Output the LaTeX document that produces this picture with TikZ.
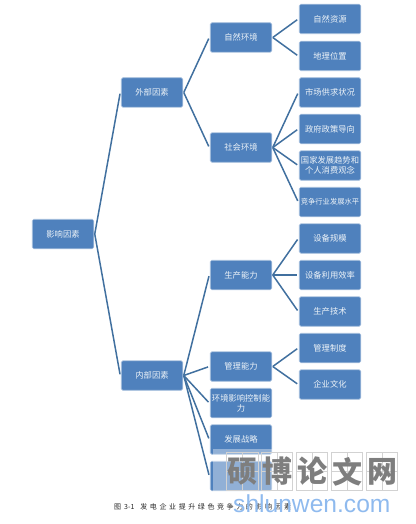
\documentclass[tikz,border=0pt]{standalone}
\usepackage{fontspec}
\setmainfont{Noto Sans CJK SC}
\newfontfamily\wmlatin{Liberation Sans}
\newfontfamily\capfont[LetterSpace=37]{Noto Sans CJK SC}
\definecolor{boxblue}{HTML}{4F81BD}
\definecolor{boxedge}{HTML}{A9C1DE}
\definecolor{linkblue}{HTML}{41709F}
\definecolor{wmgrid}{HTML}{D2D2D2}
\definecolor{wmtext}{HTML}{7E7E7E}
\definecolor{wmblue}{HTML}{8FBAEE}
\tikzset{
  bx/.style={draw=boxedge,line width=0.6pt,fill=boxblue,rounded corners=1.5pt,minimum width=61.5pt,minimum height=29.5pt,inner sep=0pt,outer sep=1pt,align=center,text=white!90!boxblue,font=\fontsize{8.3}{10.2}\selectfont},
  conn/.style={draw=linkblue,line width=1.5pt,shorten >=1.2pt},
  wmbox/.style={draw=wmgrid,line width=0.6pt,minimum width=31.5pt,minimum height=38pt,inner sep=0pt,path picture={\draw[wmgrid,line width=0.4pt] (path picture bounding box.north) -- (path picture bounding box.south) (path picture bounding box.west) -- (path picture bounding box.east);}},
  wmchar/.style={text=wmtext,inner sep=0pt,font=\fontsize{30}{30}\bfseries\selectfont}
}
\begin{document}
\begin{tikzpicture}[x=1pt,y=-1pt]
\useasboundingbox (0,0) rectangle (415,524);
% level 1 and 2
\node[bx] (root) at (63,234) {影响因素};
\node[bx] (ext) at (152,92.5) {外部因素};
\node[bx] (int) at (152,375.5) {内部因素};
% level 3
\node[bx] (nat) at (241,37.5) {自然环境};
\node[bx] (soc) at (241,147.5) {社会环境};
\node[bx] (pro) at (241,275) {生产能力};
\node[bx] (mgt) at (241,366.5) {管理能力};
\node[bx] (env) at (241,403) {环境影响控制能\\力};
\node[bx] (str) at (241,439.5) {发展战略};
\node[bx] (lst) at (241,476) {};
% level 4
\node[bx] (a1) at (330,19) {自然资源};
\node[bx] (a2) at (330,56) {地理位置};
\node[bx] (b1) at (330,92.5) {市场供求状况};
\node[bx] (b2) at (330,129) {政府政策导向};
\node[bx] (b3) at (330,165.5) {国家发展趋势和\\个人消费观念};
\node[bx,font=\fontsize{7.3}{9}\selectfont] (b4) at (330,202) {竞争行业发展水平};
\node[bx] (c1) at (330,238.5) {设备规模};
\node[bx] (c2) at (330,275) {设备利用效率};
\node[bx] (c3) at (330,311.5) {生产技术};
\node[bx] (d1) at (330,348) {管理制度};
\node[bx] (d2) at (330,384.5) {企业文化};
% connectors
\foreach \p/\c in {root/ext,root/int,ext/nat,ext/soc,int/pro,int/mgt,int/env,int/str,int/lst,
  nat/a1,nat/a2,soc/b1,soc/b2,soc/b3,soc/b4,pro/c1,pro/c2,pro/c3,mgt/d1,mgt/d2}
  \draw[conn] (\p.east) -- (\c.west);
% caption
\node[inner sep=0pt,anchor=west,text=black!85] (cap) at (114,507) {\fontsize{7}{8}\selectfont 图\hspace{3pt}3-1\hspace{6pt}{\capfont 发电企业提升绿色竞争力的影响因素}};
% watermark
\fill[white,opacity=0.38] (213,449) rectangle (272.5,491.5);
\foreach \n/\x/\t in {w1/242.5/硕,w2/277/博,w3/312/论,w4/347/文,w5/382/网}{
  \node[wmbox] (\n) at (\x,471.5) {};
  \node[wmchar] at (\x,471.5) {\t};
}
\node[inner sep=0pt,anchor=base west,text=wmblue] (url) at (233,512) {\wmlatin\fontsize{24.6}{25}\selectfont shlunwen.com};
\end{tikzpicture}
\end{document}
